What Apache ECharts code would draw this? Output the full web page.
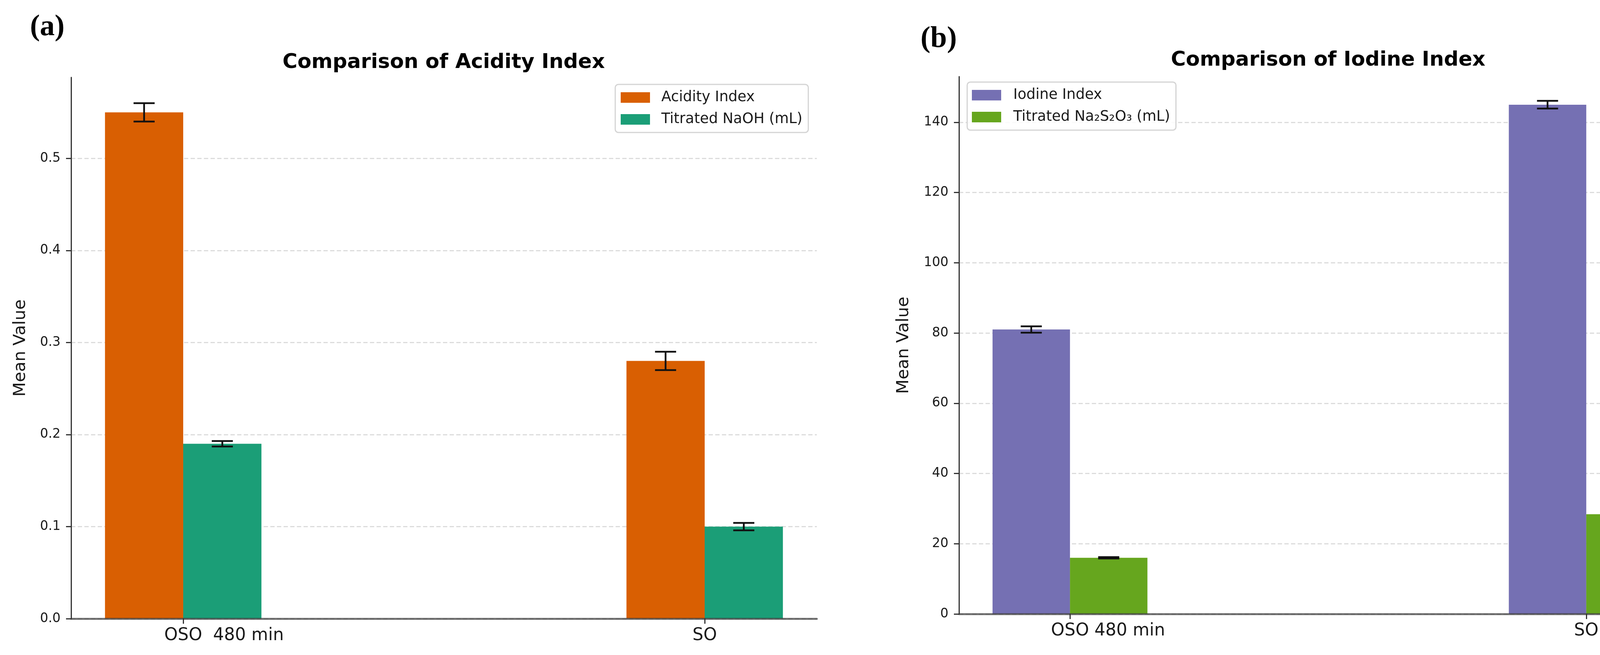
<!DOCTYPE html>
<html>
<head>
<meta charset="utf-8">
<script src="https://cdn.jsdelivr.net/npm/echarts@6/dist/echarts.min.js"></script>
<style>
html,body{margin:0;padding:0;background:#ffffff;}
#c{width:4377px;height:1676px;}
</style>
</head>
<body>
<div id="c"></div>
<script>
// ---------------- data ----------------
const categoriesA = ['OSO  480 min', 'SO'];
const categoriesB = ['OSO 480 min', 'SO'];

const acidityIndex = [0.55, 0.28];
const acidityIndexErr = [0.01, 0.01];
const titratedNaOH = [0.19, 0.10];
const titratedNaOHErr = [0.003, 0.004];

const iodineIndex = [81.0, 145.0];
const iodineIndexErr = [0.9, 1.1];
const titratedNa2S2O3 = [16.0, 28.4];
const titratedNa2S2O3Err = [0.2, 0.2];

const yTicksA = [0, 0.1, 0.2, 0.3, 0.4, 0.5];
const yTicksB = [0, 20, 40, 60, 80, 100, 120, 140];
const xTicks = [0, 1];

const titleA = 'Comparison of Acidity Index';
const titleB = 'Comparison of Iodine Index';
const seriesNamesA = ['Acidity Index', 'Titrated NaOH (mL)'];
const seriesNamesB = ['Iodine Index', 'Titrated Na\u2082S\u2082O\u2083 (mL)'];
const yName = 'Mean Value';

// ---------------- style ----------------
const FONT = 'DejaVu Sans';
const BAR_W = 0.15;
const colors = { acid: '#d95f02', naoh: '#1b9e77', iod: '#7570b3', thio: '#66a61e' };

function textWidth(t, size) {
  const cv = document.createElement('canvas').getContext('2d');
  cv.font = size + 'px "' + FONT + '"';
  return cv.measureText(t).width;
}
// shift the long first label so that "OSO" sits centred on its tick
const padA = textWidth(categoriesA[0], 44) - textWidth('OSO', 44);
const padB = textWidth(categoriesB[0], 44) - textWidth('OSO', 44);

function barRender(offset) {
  return function (params, api) {
    const x = api.value(0), v = api.value(1);
    const p0 = api.coord([x + offset, 0]);
    const p1 = api.coord([x + offset + BAR_W, v]);
    return {
      type: 'rect',
      shape: { x: p0[0], y: p1[1], width: p1[0] - p0[0], height: p0[1] - p1[1] },
      style: { fill: api.visual('color') }
    };
  };
}
function errRender(offset) {
  return function (params, api) {
    const xc = api.value(0) + offset + BAR_W / 2;
    const m = api.value(1), e = api.value(2);
    const t = api.coord([xc, m + e]);
    const b = api.coord([xc, m - e]);
    const cap = 27;
    const st = { stroke: '#111111', lineWidth: 4.5 };
    return {
      type: 'group',
      children: [
        { type: 'line', shape: { x1: t[0], y1: t[1], x2: b[0], y2: b[1] }, style: st },
        { type: 'line', shape: { x1: t[0] - cap, y1: t[1], x2: t[0] + cap, y2: t[1] }, style: st },
        { type: 'line', shape: { x1: b[0] - cap, y1: b[1], x2: b[0] + cap, y2: b[1] }, style: st }
      ]
    };
  };
}
function barSeries(name, vals, color, offset, idx) {
  return {
    name: name, type: 'custom', xAxisIndex: idx, yAxisIndex: idx,
    itemStyle: { color: color },
    encode: { x: 0, y: 1 },
    renderItem: barRender(offset),
    data: vals.map((v, i) => [i, v]),
    z: 2
  };
}
function errSeries(vals, errs, offset, idx) {
  return {
    type: 'custom', xAxisIndex: idx, yAxisIndex: idx,
    encode: { x: 0, y: 1 },
    renderItem: errRender(offset),
    data: vals.map((v, i) => [i, v, errs[i]]),
    z: 3, silent: true
  };
}

function xAxis(idx, cats, pad) {
  return {
    type: 'value', gridIndex: idx, min: -0.215, max: 1.215,
    z: 10,
    axisLine: { show: true, onZero: false, lineStyle: { color: 'rgba(55,55,55,0.7)', width: 5 } },
    axisTick: { show: true, customValues: xTicks, length: 13, lineStyle: { color: '#333', width: 3 } },
    axisLabel: {
      customValues: xTicks, margin: 22, color: '#1a1a1a', fontFamily: FONT, fontSize: 44,
      formatter: function (v) {
        const i = Math.round(v);
        return i === 0 ? '{s|' + cats[i] + '}' : cats[i];
      },
      rich: { s: { fontFamily: FONT, fontSize: 44, color: '#1a1a1a', padding: [0, 0, 0, pad] } }
    },
    splitLine: { show: false }
  };
}
function yAxis(idx, max, ticks, dec, gap) {
  return {
    type: 'value', gridIndex: idx, min: 0, max: max,
    name: yName, nameLocation: 'middle', nameGap: gap,
    nameTextStyle: { fontFamily: FONT, fontSize: 43, color: '#1a1a1a' },
    axisLine: { show: true, onZero: false, lineStyle: { color: '#333', width: 3 } },
    axisTick: { show: true, customValues: ticks, length: 13, lineStyle: { color: '#333', width: 3 } },
    axisLabel: {
      customValues: ticks, margin: 27, color: '#1a1a1a', fontFamily: FONT, fontSize: 33,
      formatter: function (v) { return v.toFixed(dec); }
    },
    splitLine: { show: true, lineStyle: { color: '#dcdcdc', width: 3, type: [11, 6] } }
  };
}
function legend(left, top, names, padL, textPad) {
  return {
    orient: 'vertical', left: left, top: top, icon: 'rect',
    data: names,
    itemWidth: 75, itemHeight: 27, itemGap: 19,
    padding: [15, 15, 15, padL],
    borderColor: '#d4d4d4', borderWidth: 3, borderRadius: 8,
    backgroundColor: 'rgba(255,255,255,0.85)',
    textStyle: { fontFamily: FONT, fontSize: 37, color: '#1a1a1a', padding: [0, 0, 0, textPad] },
    selectedMode: false
  };
}

const option = {
  animation: false,
  backgroundColor: '#ffffff',
  grid: [
    { left: 182, top: 198, width: 1909, height: 1385 },
    { left: 2455, top: 196, width: 1890, height: 1375 }
  ],
  xAxis: [xAxis(0, categoriesA, padA), xAxis(1, categoriesB, padB)],
  yAxis: [yAxis(0, 0.588, yTicksA, 1, 108), yAxis(1, 153, yTicksB, 0, 120)],
  legend: [
    legend(1575, 216, seriesNamesA, 14, 24),
    legend(2476, 210, seriesNamesB, 12, 26)
  ],
  graphic: [
    { type: 'text', x: 1136, y: 160, style: { text: titleA, fontFamily: FONT, fontWeight: 'bold', fontSize: 52, fill: '#000', align: 'center', verticalAlign: 'middle' } },
    { type: 'text', x: 3400, y: 154, style: { text: titleB, fontFamily: FONT, fontWeight: 'bold', fontSize: 52, fill: '#000', align: 'center', verticalAlign: 'middle' } },
    { type: 'text', x: 121, y: 70, style: { text: '(a)', fontFamily: 'Liberation Serif', fontWeight: 'bold', fontSize: 76, fill: '#000', align: 'center', verticalAlign: 'middle' } },
    { type: 'text', x: 2403, y: 100, style: { text: '(b)', fontFamily: 'Liberation Serif', fontWeight: 'bold', fontSize: 76, fill: '#000', align: 'center', verticalAlign: 'middle' } }
  ],
  series: [
    barSeries(seriesNamesA[0], acidityIndex, colors.acid, -BAR_W, 0),
    barSeries(seriesNamesA[1], titratedNaOH, colors.naoh, 0, 0),
    errSeries(acidityIndex, acidityIndexErr, -BAR_W, 0),
    errSeries(titratedNaOH, titratedNaOHErr, 0, 0),
    barSeries(seriesNamesB[0], iodineIndex, colors.iod, -BAR_W, 1),
    barSeries(seriesNamesB[1], titratedNa2S2O3, colors.thio, 0, 1),
    errSeries(iodineIndex, iodineIndexErr, -BAR_W, 1),
    errSeries(titratedNa2S2O3, titratedNa2S2O3Err, 0, 1)
  ]
};

const chart = echarts.init(document.getElementById('c'), null, { renderer: 'canvas' });
chart.setOption(option);
</script>
</body>
</html>
